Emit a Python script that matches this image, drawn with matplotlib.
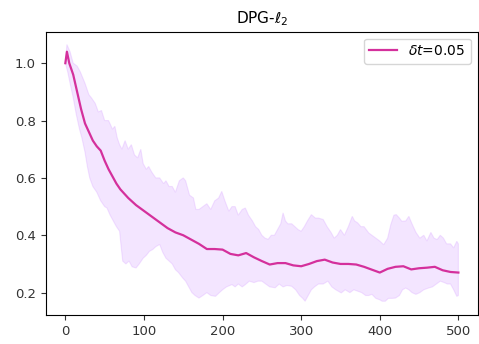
import numpy as np
import matplotlib
matplotlib.use("Agg")
import matplotlib.pyplot as plt

# mean curve
mean_x = [0, 2, 5, 10, 15, 20, 25, 30, 35, 40, 45, 50, 55, 60, 65, 70, 75, 80, 90,
          100, 110, 120, 130, 140, 150, 160, 170, 180, 190, 200, 210, 220, 230, 240,
          250, 260, 270, 280, 290, 300, 310, 320, 330, 340, 350, 360, 370, 380, 390,
          400, 410, 420, 430, 440, 450, 460, 470, 480, 490, 500]
mean_y = [1.00, 1.04, 1.00, 0.96, 0.90, 0.84, 0.79, 0.76, 0.73, 0.71, 0.695, 0.66,
          0.63, 0.605, 0.58, 0.56, 0.545, 0.53, 0.505, 0.485, 0.465, 0.445, 0.425,
          0.41, 0.40, 0.385, 0.37, 0.352, 0.352, 0.35, 0.335, 0.33, 0.338, 0.323,
          0.31, 0.298, 0.303, 0.303, 0.295, 0.292, 0.30, 0.31, 0.315, 0.305, 0.30,
          0.30, 0.298, 0.29, 0.28, 0.27, 0.283, 0.29, 0.292, 0.281, 0.285, 0.287,
          0.29, 0.278, 0.272, 0.27]

# upper edge of the band
up_x = [0, 2, 6, 10, 15, 19, 25, 30, 33, 38, 42, 46, 50, 55, 60, 63, 66, 69, 72, 76,
        80, 84, 88, 92, 96, 99, 103, 106, 110, 115, 120, 125, 128, 132, 136, 140, 145,
        150, 153, 158, 163, 166, 170, 175, 180, 185, 190, 195, 199, 203, 208, 212,
        216, 220, 225, 229, 233, 238, 242, 246, 250, 254, 258, 262, 266, 270, 274,
        277, 280, 283, 288, 292, 296, 300, 304, 308, 313, 318, 322, 328, 333, 338,
        342, 346, 350, 355, 360, 365, 368, 372, 376, 380, 386, 390, 395, 400, 405,
        410, 414, 418, 421, 425, 428, 433, 437, 441, 446, 451, 456, 460, 465, 469,
        473, 477, 481, 485, 490, 494, 498, 500]
up_y = [1.00, 1.065, 1.04, 1.00, 0.99, 0.97, 0.93, 0.89, 0.88, 0.86, 0.83, 0.835,
        0.80, 0.80, 0.77, 0.78, 0.74, 0.716, 0.70, 0.73, 0.70, 0.716, 0.68, 0.67,
        0.70, 0.65, 0.63, 0.64, 0.62, 0.60, 0.60, 0.58, 0.59, 0.57, 0.57, 0.55,
        0.59, 0.60, 0.59, 0.54, 0.53, 0.49, 0.49, 0.50, 0.51, 0.49, 0.52, 0.53,
        0.553, 0.52, 0.484, 0.50, 0.50, 0.47, 0.49, 0.495, 0.47, 0.45, 0.43, 0.42,
        0.40, 0.39, 0.386, 0.40, 0.40, 0.42, 0.44, 0.478, 0.45, 0.44, 0.44, 0.43,
        0.42, 0.414, 0.43, 0.45, 0.472, 0.46, 0.46, 0.455, 0.43, 0.41, 0.39, 0.40,
        0.42, 0.40, 0.43, 0.466, 0.45, 0.443, 0.43, 0.43, 0.408, 0.40, 0.39, 0.38,
        0.367, 0.39, 0.437, 0.47, 0.472, 0.46, 0.449, 0.45, 0.466, 0.44, 0.41, 0.39,
        0.40, 0.38, 0.41, 0.39, 0.385, 0.40, 0.39, 0.37, 0.37, 0.356, 0.379, 0.37]

# lower edge of the band
lo_x = [0, 3, 6, 10, 14, 18, 21, 25, 28, 31, 35, 40, 45, 50, 53, 57, 61, 65, 69, 71,
        73, 77, 81, 85, 90, 94, 99, 103, 107, 111, 115, 120, 124, 128, 132, 136, 140,
        144, 149, 153, 157, 161, 165, 170, 175, 180, 185, 191, 196, 200, 205, 212,
        216, 220, 225, 229, 234, 240, 245, 250, 255, 260, 267, 272, 277, 282, 288,
        293, 298, 302, 305, 309, 313, 317, 322, 328, 334, 339, 344, 351, 356, 362,
        367, 372, 377, 382, 386, 390, 395, 400, 403, 407, 411, 416, 420, 425, 429,
        433, 437, 441, 446, 451, 456, 462, 467, 472, 477, 482, 486, 490, 494, 498, 500]
lo_y = [1.00, 0.97, 0.93, 0.88, 0.82, 0.77, 0.74, 0.69, 0.64, 0.60, 0.57, 0.55,
        0.52, 0.50, 0.495, 0.47, 0.45, 0.43, 0.414, 0.36, 0.31, 0.30, 0.31, 0.29,
        0.286, 0.30, 0.32, 0.33, 0.344, 0.35, 0.36, 0.368, 0.34, 0.32, 0.31, 0.30,
        0.28, 0.27, 0.252, 0.24, 0.22, 0.20, 0.19, 0.181, 0.19, 0.20, 0.19, 0.187,
        0.20, 0.21, 0.22, 0.228, 0.22, 0.23, 0.22, 0.228, 0.24, 0.235, 0.24, 0.24,
        0.23, 0.22, 0.217, 0.23, 0.22, 0.225, 0.222, 0.21, 0.19, 0.18, 0.17, 0.19,
        0.21, 0.22, 0.23, 0.23, 0.24, 0.22, 0.21, 0.199, 0.21, 0.20, 0.21, 0.205,
        0.20, 0.19, 0.19, 0.194, 0.18, 0.175, 0.17, 0.17, 0.18, 0.18, 0.181, 0.19,
        0.21, 0.216, 0.21, 0.20, 0.194, 0.20, 0.21, 0.216, 0.22, 0.23, 0.24, 0.235,
        0.23, 0.23, 0.21, 0.187, 0.19]

fig = plt.figure(figsize=(4.79, 3.44), dpi=100)
ax = fig.add_axes([0.0954, 0.0843, 0.9026, 0.8237])

# band as one polygon: upper edge forward, lower edge back
band_x = np.r_[up_x, lo_x[::-1]]
band_y = np.r_[up_y, lo_y[::-1]]
ax.fill(band_x, band_y, color='#c77dff', alpha=0.2, lw=0.8)
ax.plot(mean_x, mean_y, color='#d4309c', lw=1.6, label=r'$\delta t$=0.05')

ax.set_xlim(-25, 525)
ax.set_ylim(0.122, 1.11)
ax.set_xticks([0, 100, 200, 300, 400, 500])
ax.set_yticks([0.2, 0.4, 0.6, 0.8, 1.0])
ax.tick_params(labelsize=9.5, colors='#333333')
ax.set_title(r'DPG-$\ell_2$', fontsize=11)
ax.legend(loc='upper right', fontsize=10)

fig.savefig('out.png', dpi=100)
